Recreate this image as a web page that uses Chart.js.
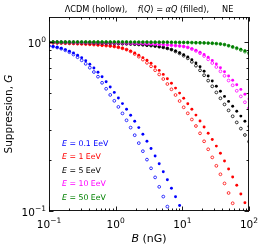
<!DOCTYPE html>
<html>
<head>
<meta charset="utf-8">
<script src="https://cdn.jsdelivr.net/npm/chart.js@4.4.0/dist/chart.umd.min.js"></script>
<style>
  html, body { margin: 0; padding: 0; background: #fff; }
  #wrap { width: 262px; height: 249px; }
</style>
</head>
<body>
<div id="wrap"><canvas id="chart" width="262" height="249"></canvas></div>
<script>
// magnetic field grid (nG)
const bField = [0.1, 0.1151, 0.1326, 0.1526, 0.1758, 0.2024, 0.2330, 0.2683, 0.3089, 0.3556,
  0.4095, 0.4715, 0.5429, 0.6251, 0.7197, 0.8286, 0.9541, 1.0985, 1.2649, 1.4563,
  1.6768, 1.9307, 2.2230, 2.5595, 2.9471, 3.3932, 3.9069, 4.4984, 5.1795, 5.9636,
  6.8665, 7.9060, 9.1029, 10.481, 12.068, 13.895, 15.999, 18.421, 21.210, 24.421,
  28.118, 32.375, 37.276, 42.919, 49.417, 56.899, 65.513, 75.431, 86.851, 100];

const energyLabels = ['0.1', '1', '5', '10', '50'];
const colors = ['#0000ff', '#ff0000', '#000000', '#ff00ff', '#008000'];

// f(Q) = alpha Q (filled)
const filled01 = [0.9470, 0.9405, 0.9303, 0.9177, 0.9016, 0.8822, 0.8608, 0.8354, 0.8063, 0.7740,
  0.7390, 0.7017, 0.6627, 0.6224, 0.5814, 0.5417, 0.5032, 0.4663, 0.4320, 0.3997,
  0.3689, 0.3395, 0.3115, 0.2847, 0.2588, 0.2343, 0.2116, 0.1902, 0.1708, 0.1530,
  0.1364, 0.1214, 0.1077];
const filled1 = [0.9892, 0.9878, 0.9865, 0.9851, 0.9838, 0.9811, 0.9798, 0.9771, 0.9744, 0.9718,
  0.9691, 0.9652, 0.9613, 0.9573, 0.9521, 0.9470, 0.9405, 0.9303, 0.9177, 0.9016,
  0.8834, 0.8608, 0.8354, 0.8085, 0.7793, 0.7481, 0.7143, 0.6791, 0.6431, 0.6065,
  0.5697, 0.5336, 0.4985, 0.4644, 0.4314, 0.3997, 0.3694, 0.3408, 0.3141, 0.2886,
  0.2649, 0.2421, 0.2198, 0.1976, 0.1772, 0.1589, 0.1419, 0.1261, 0.1120, 0.0996];
const filled5 = [0.9959, 0.9959, 0.9952, 0.9946, 0.9939, 0.9932, 0.9925, 0.9919, 0.9905, 0.9898,
  0.9892, 0.9878, 0.9865, 0.9851, 0.9838, 0.9824, 0.9811, 0.9791, 0.9771, 0.9751,
  0.9731, 0.9705, 0.9665, 0.9626, 0.9573, 0.9521, 0.9457, 0.9380, 0.9291, 0.9165,
  0.9016, 0.8846, 0.8643, 0.8411, 0.8152, 0.7846, 0.7512, 0.7133, 0.6718, 0.6292,
  0.5878, 0.5476, 0.5108, 0.4766, 0.4452, 0.4164, 0.3895, 0.3644, 0.3399, 0.3167];
const filled10 = [0.9973, 0.9973, 0.9966, 0.9966, 0.9959, 0.9959, 0.9952, 0.9946, 0.9946, 0.9939,
  0.9932, 0.9925, 0.9919, 0.9912, 0.9905, 0.9898, 0.9885, 0.9878, 0.9865, 0.9851,
  0.9838, 0.9824, 0.9804, 0.9784, 0.9764, 0.9744, 0.9718, 0.9685, 0.9652, 0.9613,
  0.9573, 0.9521, 0.9470, 0.9405, 0.9291, 0.9140, 0.8943, 0.8703, 0.8434, 0.8118,
  0.7772, 0.7410, 0.7036, 0.6663, 0.6292, 0.5934, 0.5581, 0.5242, 0.4911, 0.4600];
const filled50 = [1.0, 1.0, 1.0, 1.0, 1.0, 1.0, 1.0, 1.0, 1.0, 1.0,
  0.9995, 0.9995, 0.9995, 0.9995, 0.9995, 0.9995, 0.9995, 0.9995, 0.9995, 0.9995,
  0.999, 0.999, 0.999, 0.999, 0.999, 0.998, 0.998, 0.998, 0.998, 0.998,
  0.9959, 0.9952, 0.9946, 0.9939, 0.9932, 0.9919, 0.9905, 0.9892, 0.9878, 0.9851,
  0.9824, 0.9784, 0.9731, 0.9652, 0.9521, 0.9367, 0.9215, 0.9053, 0.8870, 0.8679];

// LambdaCDM (hollow)
const hollow01 = [0.9470, 0.9393, 0.9278, 0.9128, 0.8931, 0.8703, 0.8434, 0.8129, 0.7793, 0.7430,
  0.7046, 0.6645, 0.6233, 0.5736, 0.5286, 0.4864, 0.4488, 0.4130, 0.3780, 0.3441,
  0.3115, 0.2809, 0.2522, 0.2259, 0.2014, 0.1789, 0.1581, 0.1390, 0.1217, 0.1062];
const hollow1 = [0.9892, 0.9878, 0.9865, 0.9851, 0.9838, 0.9811, 0.9798, 0.9771, 0.9744, 0.9718,
  0.9691, 0.9652, 0.9613, 0.9573, 0.9521, 0.9470, 0.9405, 0.9303, 0.9177, 0.9016,
  0.8798, 0.8492, 0.8185, 0.7868, 0.7532, 0.7181, 0.6810, 0.6431, 0.6041, 0.5643,
  0.5250, 0.4857, 0.4476, 0.4108, 0.3785, 0.3479, 0.3184, 0.2882, 0.2585, 0.2318,
  0.2076, 0.1851, 0.1649, 0.1456, 0.1278, 0.1111];
const hollow5 = [0.9959, 0.9959, 0.9952, 0.9946, 0.9939, 0.9932, 0.9925, 0.9919, 0.9905, 0.9898,
  0.9892, 0.9878, 0.9865, 0.9851, 0.9838, 0.9824, 0.9811, 0.9791, 0.9771, 0.9751,
  0.9731, 0.9705, 0.9665, 0.9626, 0.9573, 0.9521, 0.9457, 0.9380, 0.9291, 0.9165,
  0.9016, 0.8786, 0.8561, 0.8297, 0.8009, 0.7635, 0.7241, 0.6800, 0.6361, 0.5910,
  0.5468, 0.5032, 0.4644, 0.4273, 0.3938, 0.3634, 0.3344, 0.3073, 0.2817, 0.2574];
const hollow10 = [0.9973, 0.9973, 0.9966, 0.9966, 0.9959, 0.9959, 0.9952, 0.9946, 0.9946, 0.9939,
  0.9932, 0.9925, 0.9919, 0.9912, 0.9905, 0.9898, 0.9885, 0.9878, 0.9865, 0.9851,
  0.9838, 0.9824, 0.9804, 0.9784, 0.9764, 0.9744, 0.9718, 0.9685, 0.9652, 0.9613,
  0.9573, 0.9521, 0.9470, 0.9405, 0.9291, 0.9078, 0.8858, 0.8585, 0.8263, 0.7900,
  0.7512, 0.7114, 0.6709, 0.6310, 0.5918, 0.5544, 0.5143, 0.4766, 0.4403, 0.4069];
const hollow50 = [1.0, 1.0, 1.0, 1.0, 1.0, 1.0, 1.0, 1.0, 1.0, 1.0,
  0.9995, 0.9995, 0.9995, 0.9995, 0.9995, 0.9995, 0.9995, 0.9995, 0.9995, 0.9995,
  0.999, 0.999, 0.999, 0.999, 0.999, 0.998, 0.998, 0.998, 0.998, 0.998,
  0.9959, 0.9952, 0.9946, 0.9939, 0.9932, 0.9919, 0.9905, 0.9892, 0.9878, 0.9851,
  0.9824, 0.9784, 0.9731, 0.9652, 0.950, 0.933, 0.916, 0.897, 0.877, 0.855];

const filledSeries = [filled01, filled1, filled5, filled10, filled50];
const hollowSeries = [hollow01, hollow1, hollow5, hollow10, hollow50];

const xTicks = [0.1, 1, 10, 100];
const xTickExp = ['\u22121', '0', '1', '2'];
const yTicks = [0.1, 1];
const yTickExp = ['\u22121', '0'];

const FONT = '"DejaVu Sans", sans-serif';

function pts(arr) {
  return arr.map((g, i) => ({ x: bField[i], y: g }));
}

const datasets = [];
for (let k = 4; k >= 0; k--) {
  datasets.push({
    data: pts(filledSeries[k]),
    order: 2 * (4 - k),
    pointRadius: 1.45,
    pointBorderWidth: 0,
    pointBackgroundColor: colors[k],
    pointBorderColor: colors[k]
  });
  datasets.push({
    data: pts(hollowSeries[k]),
    order: 2 * (4 - k) + 1,
    pointRadius: 1.4,
    pointBorderWidth: 0.8,
    pointBackgroundColor: 'rgba(255,255,255,0)',
    pointBorderColor: colors[k]
  });
}

function drawRuns(ctx, runs, x, y, align) {
  let w = 0;
  runs.forEach(r => {
    ctx.font = (r.it ? 'italic ' : '') + r.size + 'px ' + FONT;
    r.w = ctx.measureText(r.t).width;
    w += r.w;
  });
  let cx = align === 'center' ? x - w / 2 : align === 'right' ? x - w : x;
  runs.forEach(r => {
    ctx.font = (r.it ? 'italic ' : '') + r.size + 'px ' + FONT;
    ctx.fillStyle = r.color || '#000';
    ctx.fillText(r.t, cx, y + (r.dy || 0));
    cx += r.w;
  });
}

const decor = {
  id: 'decor',
  afterDraw(chart) {
    const ctx = chart.ctx;
    const a = chart.chartArea;
    const xs = chart.scales.x, ys = chart.scales.y;
    ctx.save();
    ctx.strokeStyle = '#000';
    ctx.lineWidth = 0.9;
    ctx.strokeRect(a.left + 0.5, a.top + 0.5, a.right - a.left - 1, a.bottom - a.top - 1);

    // inward ticks
    ctx.beginPath();
    for (let d = -1; d <= 2; d++) {
      for (let m = 1; m <= 9; m++) {
        const v = m * Math.pow(10, d);
        if (v < 0.1 || v > 100) continue;
        const px = Math.round(xs.getPixelForValue(v)) + 0.5;
        const len = m === 1 ? 4.5 : 2.5;
        ctx.moveTo(px, a.bottom); ctx.lineTo(px, a.bottom - len);
        ctx.moveTo(px, a.top); ctx.lineTo(px, a.top + len);
      }
    }
    for (let m = 1; m <= 10; m++) {
      const v = m * 0.1;
      const py = Math.round(ys.getPixelForValue(v)) + 0.5;
      const len = (m === 1 || m === 10) ? 4.5 : 2.5;
      ctx.moveTo(a.left, py); ctx.lineTo(a.left + len, py);
      ctx.moveTo(a.right, py); ctx.lineTo(a.right - len, py);
    }
    ctx.stroke();

    // tick labels
    ctx.textBaseline = 'alphabetic';
    xTicks.forEach((v, i) => {
      const px = xs.getPixelForValue(v);
      drawRuns(ctx, [{ t: '10', size: 10.5 }, { t: xTickExp[i], size: 7.5, dy: -5 }], px, 228, 'center');
    });
    yTicks.forEach((v, i) => {
      const py = ys.getPixelForValue(v);
      drawRuns(ctx, [{ t: '10', size: 10.5 }, { t: yTickExp[i], size: 7.5, dy: -5 }], a.left - 3, py + 4.5, 'right');
    });

    // axis titles
    drawRuns(ctx, [{ t: 'B', size: 11, it: true }, { t: ' (nG)', size: 11 }], (a.left + a.right) / 2, 242, 'center');
    ctx.save();
    ctx.translate(12, (a.top + a.bottom) / 2);
    ctx.rotate(-Math.PI / 2);
    drawRuns(ctx, [{ t: 'Suppression, ', size: 10.5 }, { t: 'G', size: 10.5, it: true }], 0, 0, 'center');
    ctx.restore();

    // title
    drawRuns(ctx, [
      { t: '\u039BCDM (hollow),', size: 8.2 },
      { t: '    ', size: 8.2 },
      { t: 'f', size: 8.2, it: true }, { t: '(', size: 8.2 }, { t: 'Q', size: 8.2, it: true },
      { t: ') = ', size: 8.2 }, { t: '\u03B1Q', size: 8.2, it: true },
      { t: ' (filled),', size: 8.2 },
      { t: '     NE', size: 8.2 }
    ], (a.left + a.right) / 2, 11.5, 'center');

    // legend (text only, coloured)
    energyLabels.forEach((e, i) => {
      const y = 145.5 + i * 13.5;
      drawRuns(ctx, [
        { t: 'E', size: 7.8, it: true, color: colors[i] },
        { t: ' = ' + e + ' EeV', size: 7.8, color: colors[i] }
      ], 62, y, 'left');
    });
    ctx.restore();
  }
};

new Chart(document.getElementById('chart'), {
  type: 'scatter',
  data: { datasets },
  options: {
    responsive: false,
    devicePixelRatio: 1,
    animation: false,
    layout: { padding: { left: 49, right: 13, top: 17, bottom: 38 } },
    plugins: { legend: { display: false }, tooltip: { enabled: false } },
    scales: {
      x: {
        type: 'logarithmic', min: 0.1, max: 100,
        ticks: { display: false },
        grid: { display: false, drawTicks: false },
        border: { display: false }
      },
      y: {
        type: 'logarithmic', min: 0.1, max: 1.406,
        ticks: { display: false },
        grid: { display: false, drawTicks: false },
        border: { display: false }
      }
    }
  },
  plugins: [decor]
});
</script>
</body>
</html>
